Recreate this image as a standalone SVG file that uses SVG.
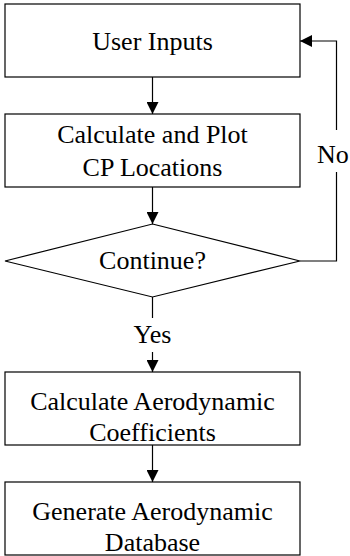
<svg xmlns="http://www.w3.org/2000/svg" width="350" height="556" viewBox="0 0 350 556">
<defs>
<style>
.box{fill:#fff;stroke:#000;stroke-width:1.2}
.t{font-family:"Liberation Serif","Times New Roman",serif;font-size:26px;fill:#000;text-anchor:middle}
.c{fill:none;stroke:#000;stroke-width:1.2}
</style>
<marker id="ah" viewBox="0 0 12 12" refX="12" refY="6" markerWidth="12" markerHeight="12" markerUnits="userSpaceOnUse" orient="auto">
<path d="M0,0 L12,6 L0,12 Z" fill="#000"/>
</marker>
</defs>
<rect width="350" height="556" fill="#fff"/>
<g id="connectors">
<line class="c" x1="152.5" y1="77" x2="152.5" y2="114" marker-end="url(#ah)"/>
<line class="c" x1="152.5" y1="187" x2="152.5" y2="224" marker-end="url(#ah)"/>
<line class="c" x1="152.5" y1="297" x2="152.5" y2="318"/>
<line class="c" x1="152.5" y1="352" x2="152.5" y2="372" marker-end="url(#ah)"/>
<line class="c" x1="152.5" y1="445" x2="152.5" y2="482" marker-end="url(#ah)"/>
<polyline class="c" points="300,261 336.5,261 336.5,172"/>
<polyline class="c" points="336.5,130 336.5,41 300,41" marker-end="url(#ah)"/>
<text class="t" x="317" y="163" style="text-anchor:start">No</text>
<text class="t" x="152.5" y="343">Yes</text>
</g>
<g id="user-inputs">
<rect class="box" x="5" y="4" width="295" height="73"/>
<text class="t" x="152.5" y="50">User Inputs</text>
</g>
<g id="calc-plot">
<rect class="box" x="5" y="114" width="295" height="73"/>
<text class="t" x="152.5" y="143">Calculate and Plot</text>
<text class="t" x="152.5" y="176">CP Locations</text>
</g>
<g id="continue">
<polygon class="box" points="152.5,224 300,261 152.5,297 5,261"/>
<text class="t" x="152.5" y="269">Continue?</text>
</g>
<g id="calc-coeff">
<rect class="box" x="5" y="372" width="295" height="73"/>
<text class="t" x="152.5" y="410">Calculate Aerodynamic</text>
<text class="t" x="152.5" y="441">Coefficients</text>
</g>
<g id="gen-db">
<rect class="box" x="5" y="482" width="295" height="73"/>
<text class="t" x="152.5" y="520">Generate Aerodynamic</text>
<text class="t" x="152.5" y="551">Database</text>
</g>
</svg>
